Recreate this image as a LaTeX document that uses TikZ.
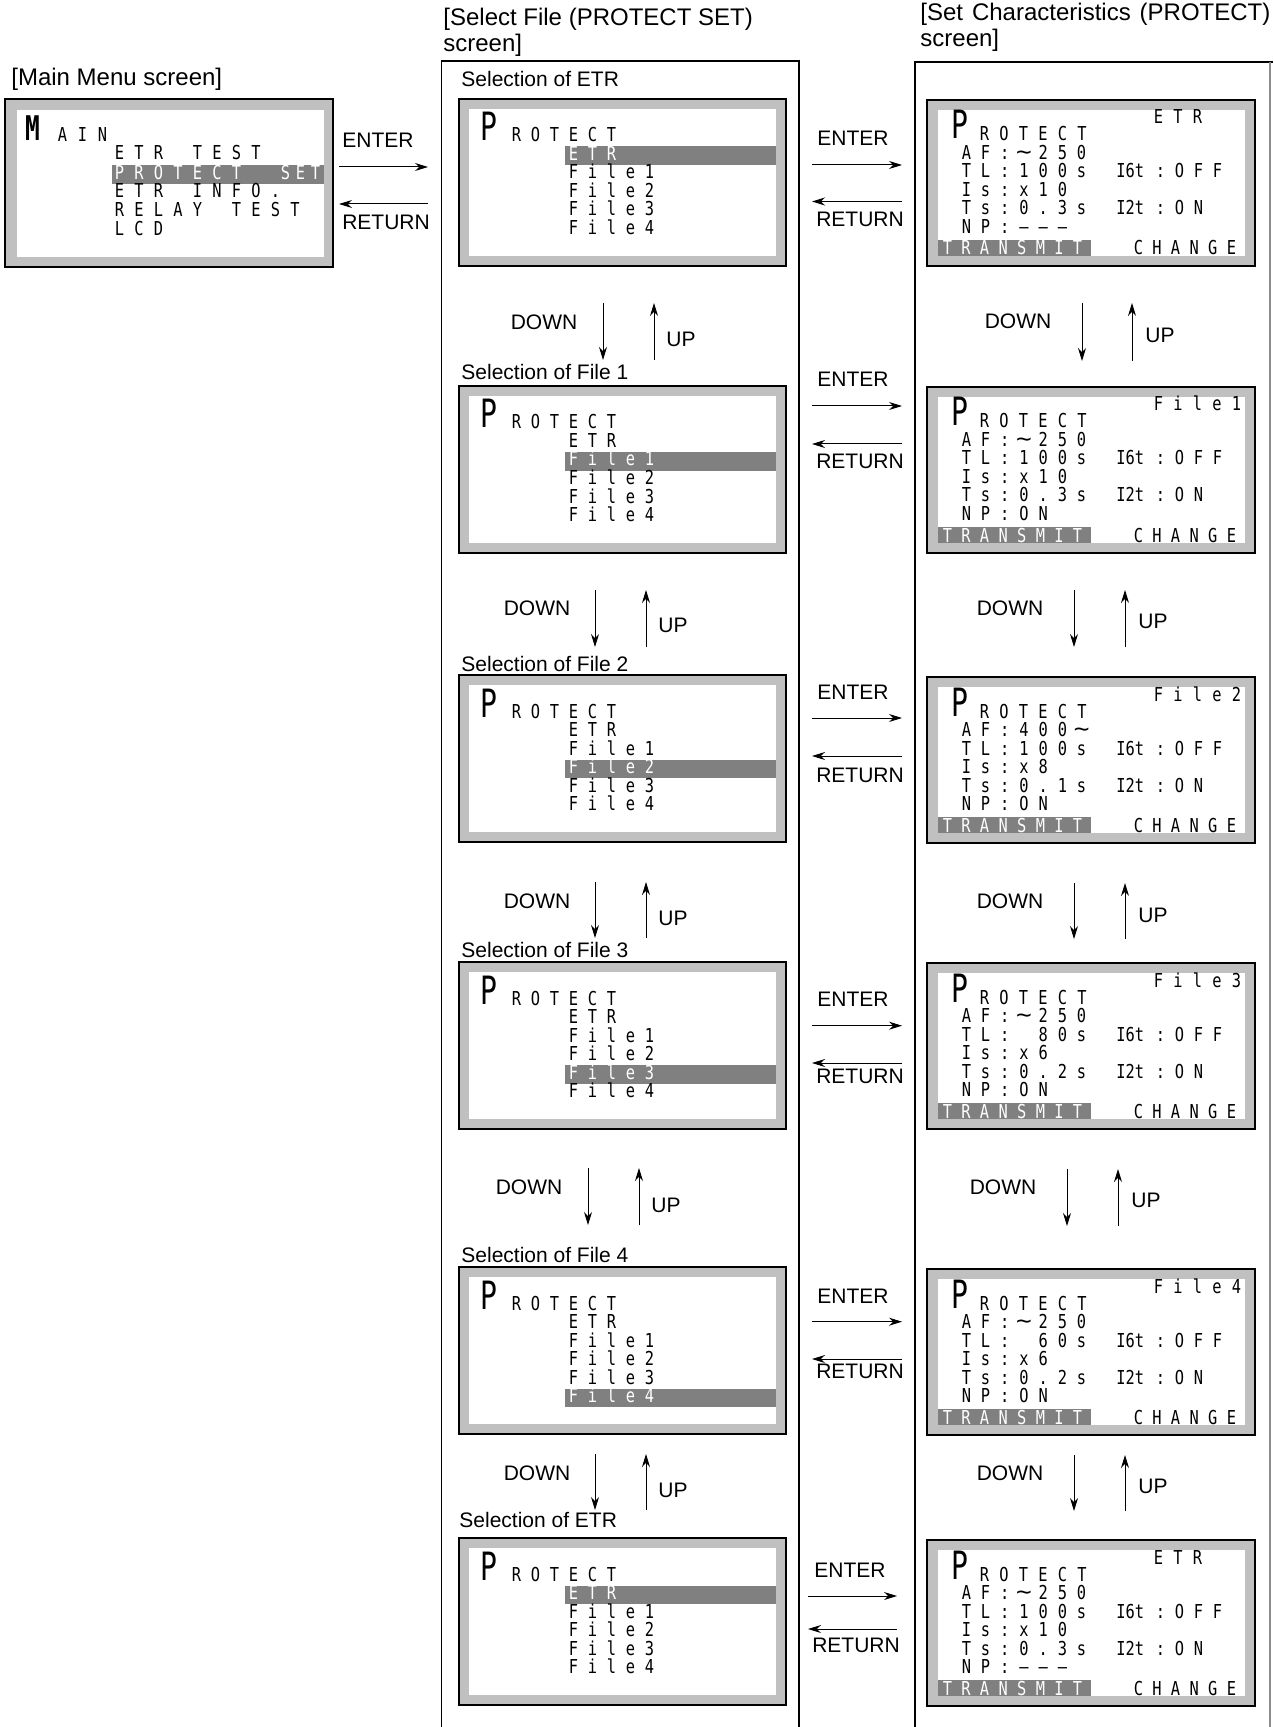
\documentclass[tikz,border=0pt]{standalone}
\usepackage{fontspec}
\usepackage{graphicx}
\setmainfont{Liberation Sans}
\newfontfamily\lcdfont[FakeStretch=0.8]{DejaVu Sans Mono}
\newfontfamily\lcdbig[FakeStretch=0.72]{DejaVu Sans Mono}
\usetikzlibrary{arrows.meta}
\definecolor{scrgray}{HTML}{C0C0C0}
\definecolor{hlgray}{HTML}{808080}

\makeatletter
\newdimen\lcd@p
\def\lcd@stop{\lcd@stop}
\newcommand\lcd[2]{\lcd@p=#1\relax\lcd@loop#2\lcd@stop}
\def\lcd@loop#1{\ifx#1\lcd@stop\else\lcd@box{#1}\expandafter\lcd@loop\fi}
\def\lcd@box#1{\makebox[\lcd@p][c]{\ifx#1|\else#1\fi}}
\makeatother
\protected\def\wv{\smash{\scalebox{1.7}[1.15]{\char"223C}}}
\protected\def\dsh{\char"2013\relax}

\tikzset{
  scr/.style={draw=black, line width=1.25pt, fill=scrgray, inner sep=0pt, outer sep=0pt, anchor=north west},
  lbl/.style={font=\fontsize{10.5}{12}\selectfont, inner sep=0pt, anchor=base},
  hdr/.style={font=\fontsize{12}{14}\selectfont, inner sep=0pt, anchor=base west},
  lcdt/.style={font={\lcdfont\fontsize{9.6}{9.6}\selectfont}, inner sep=0pt, anchor=base west, text height=7.2pt, text depth=0.5pt},
  bigp/.style={font={\lcdbig\fontsize{19.5}{19.5}\selectfont}, inner sep=0pt, anchor=base west, text height=14.5pt, text depth=0pt},
  bigm/.style={font={\lcdbig\bfseries\fontsize{17}{17}\selectfont}, inner sep=0pt, anchor=base west, text height=12.5pt, text depth=0pt},
  arr/.style={line width=0.5pt, -{Stealth[length=6.5pt,width=4pt]}},
  col/.style={line width=0.9pt},
}

% middle (select file) screen: name, X, T, highlighted index
\newcommand\selscr[4]{%
  \node[scr, minimum width=163.5pt, minimum height=83.5pt] (#1) at (#2,#3) {};
  \fill[white] (#2+10,#3+10) rectangle (#2+317,#3+157);
  \node[bigp] (#1P) at (#2+21,#3+42) {P};
  \node[lcdt] (#1R) at (#2+47.5,#3+43) {\lcd{9.5pt}{ROTECT}};
  \foreach \lb [count=\i from 0] in {ETR,File1,File2,File3,File4}{
    \pgfmathsetmacro\yb{#3+61.5+18.5*\i}
    \ifnum\i=#4
      \fill[hlgray] (#2+106,\yb-14) rectangle (#2+317,\yb+4.5);
      \def\tc{white}%
    \else
      \def\tc{black}%
    \fi
    \edef\tmp{\noexpand\node[lcdt,text=\tc] (#1-\i) at (#2+104.5,\yb) {\noexpand\lcd{9.5pt}{\lb}};}\tmp
  }
}

% right (set characteristics) screen: name, X, T, header, AF, TL, Is, Ts, NP
\newcommand\setscr[9]{%
  \node[scr, minimum width=164pt, minimum height=83pt] (#1) at (#2,#3) {};
  \fill[white] (#2+11,#3+10) rectangle (#2+318,#3+156);
  \fill[hlgray] (#2+11,#3+140) rectangle (#2+164,#3+156);
  \node[bigp] (#1P) at (#2+24,#3+39) {P};
  \node[lcdt] (#1H) at (#2+221.25,#3+24) {\lcd{9.75pt}{#4}};
  \node[lcdt] (#1R) at (#2+47.25,#3+41) {\lcd{9.75pt}{ROTECT}};
  \node[lcdt] (#1a) at (#2+29.4,#3+59.5) {\lcd{9.6pt}{AF:#5}};
  \node[lcdt] (#1b) at (#2+29.4,#3+78) {\lcd{9.6pt}{TL:#6}};
  \node[lcdt] (#1c) at (#2+29.4,#3+96.5) {\lcd{9.6pt}{Is:#7}};
  \node[lcdt] (#1d) at (#2+29.4,#3+115) {\lcd{9.6pt}{Ts:#8}};
  \node[lcdt] (#1e) at (#2+29.4,#3+133.5) {\lcd{9.6pt}{NP:#9}};
  \node[lcdt] (#1f) at (#2+189,#3+78) {I6t};
  \node[lcdt] (#1g) at (#2+223.5,#3+78) {\lcd{9.5pt}{:OFF}};
  \node[lcdt] (#1h) at (#2+189,#3+115) {I2t};
  \node[lcdt] (#1i) at (#2+223.5,#3+115) {\lcd{9.5pt}{:ON}};
  \node[lcdt,text=white] (#1j) at (#2+10.7,#3+155) {\lcd{9.3pt}{TRANSMIT}};
  \node[lcdt] (#1k) at (#2+201.7,#3+155) {\lcd{9.3pt}{CHANGE}};
}

% DOWN/UP pair: name, DOWN cx, DOWN base, down x, ytop, ybot, up x, UP cx, UP base
\newcommand\updn[9]{%
  \node[lbl] (#1D) at (#2,#3) {DOWN};
  \coordinate (#1a) at (#4,#5); \coordinate (#1b) at (#4,#6);
  \draw[arr] (#1a) -- (#1b);
  \coordinate (#1c) at (#7,#6); \coordinate (#1d) at (#7,#5);
  \draw[arr] (#1c) -- (#1d);
  \node[lbl] (#1U) at (#8,#9) {UP};
}

% ENTER/RETURN pair: name, ENTER cx, ENTER base, arrow y, x1, x2, ret y, RET cx, RET base
\newcommand\entret[9]{%
  \node[lbl] (#1E) at (#2,#3) {ENTER};
  \coordinate (#1a) at (#5,#4); \coordinate (#1b) at (#6,#4);
  \draw[arr] (#1a) -- (#1b);
  \coordinate (#1c) at (#6,#7); \coordinate (#1d) at (#5,#7);
  \draw[arr] (#1c) -- (#1d);
  \node[lbl] (#1R) at (#8,#9) {RETURN};
}

\begin{document}
\begin{tikzpicture}[x=0.5pt,y=-0.5pt]
\fill[white] (0,0) rectangle (1273,1727);
\useasboundingbox (0,0) rectangle (1273,1727);

% headers
\node[hdr] (hmain) at (11,86) {[Main Menu screen]};
\node[hdr] (hsel1) at (443,26) {[Select File (PROTECT SET)};
\node[hdr] (hsel2) at (443,52) {screen]};
\node[hdr] (hset1) at (920,21) {\makebox[175pt][s]{[Set Characteristics (PROTECT)}};
\node[hdr] (hset2) at (920,47) {screen]};

% column frames
\draw[col] (441.5,1727) -- (441.5,61) -- (799,61) -- (799,1727);
\draw[col] (915,1727) -- (915,62) -- (1273,62);
\draw[col, black!45] (1270,62) -- (1270,1727);

% main menu screen
\node[scr, minimum width=164pt, minimum height=84pt] (main) at (5,99) {};
\fill[white] (17,110) rectangle (324,257);
\node[bigm] (mainM) at (25,141) {M};
\node[lcdt] (mainA) at (52,141.7) {\lcd{10pt}{AIN}};
\fill[hlgray] (112,165) rectangle (324,184);
\node[lcdt] (main1) at (109.25,160) {\lcd{9.75pt}{ETR|TEST}};
\node[lcdt,text=white] (main2) at (109.25,179.5) {\lcd{9.75pt}{PROTECT}};
\node[lcdt,text=white] (main2b) at (277.5,179.5) {\lcd{7.5pt}{SET}};
\node[lcdt] (main3) at (109.25,198) {\lcd{9.75pt}{ETR|INFO.}};
\node[lcdt] (main4) at (109.25,217) {\lcd{9.75pt}{RELAY|TEST}};
\node[lcdt] (main5) at (109.25,235.5) {\lcd{9.75pt}{LCD}};

\entret{em}{378}{148}{167}{339}{428}{204}{386}{230}

% selection labels
\node[lbl, anchor=base west] (s1) at (461,87) {Selection of ETR};
\node[lbl, anchor=base west] (s2) at (461,380) {Selection of File 1};
\node[lbl, anchor=base west] (s3) at (461,671) {Selection of File 2};
\node[lbl, anchor=base west] (s4) at (461,957) {Selection of File 3};
\node[lbl, anchor=base west] (s5) at (461,1262) {Selection of File 4};
\node[lbl, anchor=base west] (s6) at (459,1527) {Selection of ETR};

% middle screens
\selscr{m1}{459}{99}{0}
\selscr{m2}{459}{386}{1}
\selscr{m3}{459}{675}{2}
\selscr{m4}{459}{962}{3}
\selscr{m5}{459}{1267}{4}
\selscr{m6}{459}{1538}{0}

% right screens
\setscr{r1}{927}{100}{ETR}{\wv250}{100s}{x10}{0.3s}{\dsh\dsh\dsh}
\setscr{r2}{927}{387}{File1}{\wv250}{100s}{x10}{0.3s}{ON}
\setscr{r3}{927}{677}{File2}{400\wv}{100s}{x8}{0.1s}{ON}
\setscr{r4}{927}{963}{File3}{\wv250}{|80s}{x6}{0.2s}{ON}
\setscr{r5}{927}{1269}{File4}{\wv250}{|60s}{x6}{0.2s}{ON}
\setscr{r6}{927}{1540}{ETR}{\wv250}{100s}{x10}{0.3s}{\dsh\dsh\dsh}

% DOWN / UP (middle column)
\updn{ma}{544}{330}{603}{303}{360}{654}{681}{347}
\updn{mb}{537}{615}{595}{590}{647}{646}{673}{632}
\updn{mc}{537}{908}{595}{882}{938}{646}{673}{925}
\updn{md}{529}{1194}{588}{1168}{1225}{639}{666}{1212}
\updn{me}{537}{1480}{595}{1454}{1510}{646}{673}{1497}

% DOWN / UP (right column)
\updn{ra}{1018}{329}{1082}{303}{361}{1132}{1160}{343}
\updn{rb}{1010}{615}{1074}{590}{647}{1125}{1153}{628}
\updn{rc}{1010}{908}{1074}{883}{939}{1125}{1153}{922}
\updn{rd}{1003}{1194}{1067}{1169}{1226}{1118}{1146}{1207}
\updn{re}{1010}{1480}{1074}{1455}{1511}{1125}{1153}{1493}

% ENTER / RETURN between middle and right
\entret{ea}{853}{146}{165}{812}{902}{201.5}{860}{227}
\entret{eb}{853}{387}{406}{812}{902}{444}{860}{468}
\entret{ec}{853}{699}{718}{812}{902}{756}{860}{782}
\entret{ed}{853}{1006}{1025.7}{812}{902}{1063}{860}{1083}
\entret{ee}{853}{1303}{1321.7}{812}{902}{1359}{860}{1378}
\entret{ef}{850}{1577}{1596}{808}{897}{1629}{856}{1652}
\end{tikzpicture}
\end{document}
